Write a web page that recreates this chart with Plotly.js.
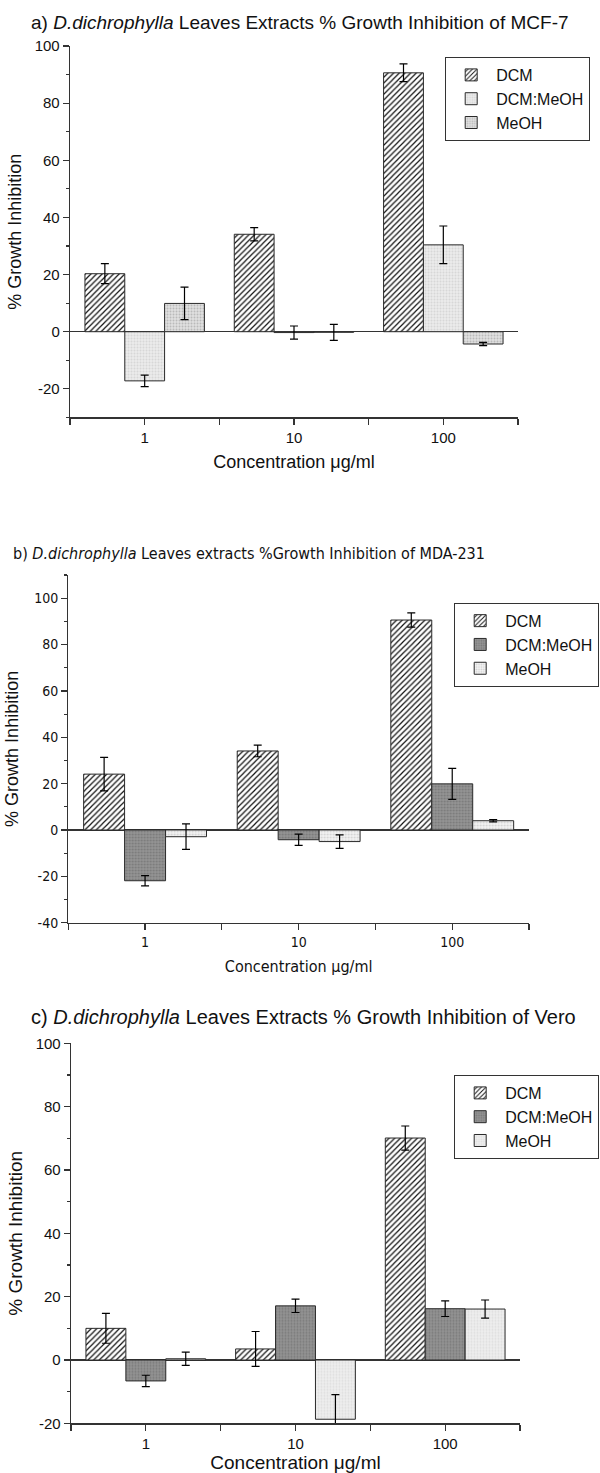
<!DOCTYPE html>
<html>
<head>
<meta charset="utf-8">
<script src="https://cdn.plot.ly/plotly-3.0.1.min.js"></script>
<style>html,body{margin:0;padding:0;background:#fff;} #chart{width:600px;height:1473px;}</style>
</head>
<body>
<div id="chart"></div>
<script>
// ---- data ----
const concentrations = [1, 10, 100];
const concLabels = ['1', '10', '100'];
const seriesNames = ['DCM', 'DCM:MeOH', 'MeOH'];

// a) MCF-7
const mcfDCM = [20.3, 34.1, 90.6];
const mcfDCMerr = [3.5, 2.3, 3.1];
const mcfDCMMeOH = [-17.2, -0.3, 30.4];
const mcfDCMMeOHerr = [2.0, 2.3, 6.6];
const mcfMeOH = [9.9, -0.2, -4.3];
const mcfMeOHerr = [5.7, 2.8, 0.6];

// b) MDA-231
const mdaDCM = [24.1, 34.1, 90.6];
const mdaDCMerr = [7.2, 2.5, 3.1];
const mdaDCMMeOH = [-21.9, -4.2, 19.9];
const mdaDCMMeOHerr = [2.2, 2.4, 6.7];
const mdaMeOH = [-2.9, -5.0, 4.0];
const mdaMeOHerr = [5.5, 2.9, 0.5];

// c) Vero
const veroDCM = [10.0, 3.5, 70.1];
const veroDCMerr = [4.7, 5.5, 3.8];
const veroDCMMeOH = [-6.6, 17.1, 16.2];
const veroDCMMeOHerr = [1.8, 2.1, 2.45];
const veroMeOH = [0.4, -18.7, 16.1];
const veroMeOHerr = [2.1, 7.8, 2.85];

const yTicksA = [-20, 0, 20, 40, 60, 80, 100];
const yTicksB = [-40, -20, 0, 20, 40, 60, 80, 100];
const yTicksC = [-20, 0, 20, 40, 60, 80, 100];

// ---- styling ----
const ARIAL = 'Liberation Sans, Arial, Helvetica, sans-serif';
const NARROW = 'Liberation Sans Narrow, Arial Narrow, DejaVu Sans Condensed, Liberation Sans, sans-serif';
const xPos = concentrations.map(c => Math.log10(c));

const hatch = {shape: '/', fgcolor: '#111', bgcolor: '#fff', size: 4, solidity: 0.3};
const dots = (fg, bg) => ({shape: '.', fgcolor: fg, bgcolor: bg, size: 3, solidity: 0.35});

function bar(name, y, err, pattern, xa, ya, legend) {
  return {
    type: 'bar', name: name, x: xPos, y: y,
    xaxis: xa, yaxis: ya, legend: legend,
    marker: {color: pattern.bgcolor, pattern: pattern, line: {color: '#2a2a2a', width: 1}},
    error_y: {type: 'data', array: err, visible: true, color: '#000', thickness: 1.2, width: 4},
    hoverinfo: 'skip'
  };
}

const data = [
  bar(seriesNames[0], mcfDCM, mcfDCMerr, hatch, 'x', 'y', 'legend'),
  bar(seriesNames[1], mcfDCMMeOH, mcfDCMMeOHerr, dots('#d6d6d6', '#ececec'), 'x', 'y', 'legend'),
  bar(seriesNames[2], mcfMeOH, mcfMeOHerr, dots('#b8b8b8', '#e2e2e2'), 'x', 'y', 'legend'),

  bar(seriesNames[0], mdaDCM, mdaDCMerr, hatch, 'x2', 'y2', 'legend2'),
  bar(seriesNames[1], mdaDCMMeOH, mdaDCMMeOHerr, dots('#777777', '#959595'), 'x2', 'y2', 'legend2'),
  bar(seriesNames[2], mdaMeOH, mdaMeOHerr, dots('#cfcfcf', '#f4f4f4'), 'x2', 'y2', 'legend2'),

  bar(seriesNames[0], veroDCM, veroDCMerr, hatch, 'x3', 'y3', 'legend3'),
  bar(seriesNames[1], veroDCMMeOH, veroDCMMeOHerr, dots('#7a7a7a', '#939393'), 'x3', 'y3', 'legend3'),
  bar(seriesNames[2], veroMeOH, veroMeOHerr, dots('#dedede', '#efefef'), 'x3', 'y3', 'legend3')
];

function xAxis(domain, anchor, font, titleFont, standoff) {
  return {
    domain: domain, anchor: anchor, range: [-0.5, 2.5], fixedrange: true,
    showline: true, linecolor: '#333', linewidth: 1.3, showgrid: false, zeroline: false,
    ticks: 'outside', ticklen: 6, tickwidth: 1.2, tickcolor: '#333',
    tickmode: 'array', tickvals: xPos, ticktext: concLabels,
    minor: {tickvals: [-0.5, 0.5, 1.5, 2.5], ticks: 'outside', ticklen: 6, tickwidth: 1.2, tickcolor: '#333', showgrid: false},
    tickfont: font,
    title: {text: 'Concentration μg/ml', font: titleFont, standoff: standoff},
    automargin: false
  };
}
function yAxis(domain, anchor, range, ticks, font, titleFont, standoff) {
  return {
    domain: domain, anchor: anchor, range: range, fixedrange: true,
    showline: true, linecolor: '#333', linewidth: 1.3, showgrid: false,
    zeroline: true, zerolinecolor: '#333', zerolinewidth: 1.5,
    ticks: 'outside', ticklen: 6, tickwidth: 1.2, tickcolor: '#333',
    tickmode: 'array', tickvals: ticks, ticktext: ticks.map(String),
    minor: {dtick: 10, tick0: 0, ticks: 'outside', ticklen: 3, tickwidth: 1.2, tickcolor: '#333', showgrid: false},
    tickfont: font,
    title: {text: '% Growth Inhibition', font: titleFont, standoff: standoff},
    automargin: false
  };
}

const fA = {family: ARIAL, size: 15, color: '#111'};
const fN = {family: NARROW, size: 14, color: '#111'};
const tA = {family: ARIAL, size: 18, color: '#111'};
const tC = {family: ARIAL, size: 19, color: '#111'};
const tN = {family: NARROW, size: 16, color: '#111'};

function legendBox(x, y) {
  return {x: x, y: y, xanchor: 'left', yanchor: 'top', bgcolor: '#fff', bordercolor: '#333', borderwidth: 1,
          itemwidth: 40,
          font: {family: ARIAL, size: 16, color: '#111'}, tracegroupgap: 0, itemclick: false, itemdoubleclick: false};
}

const layout = {
  width: 600, height: 1473,
  margin: {l: 0, r: 0, t: 0, b: 0, autoexpand: false},
  paper_bgcolor: '#fff', plot_bgcolor: '#fff',
  barmode: 'group', bargap: 0.2, bargroupgap: 0,
  showlegend: true,
  xaxis: xAxis([0.1167, 0.8633], 'y', fA, tA, 10),
  yaxis: yAxis([0.7166, 0.9688], 'x', [-30, 100], yTicksA, fA, tA, 8),
  xaxis2: xAxis([0.1138, 0.8817], 'y2', fN, tN, 12),
  yaxis2: yAxis([0.3736, 0.6096], 'x2', [-40, 110], yTicksB, fN, tA, 10),
  xaxis3: xAxis([0.1183, 0.8667], 'y3', fA, tC, 5),
  yaxis3: yAxis([0.0337, 0.2917], 'x3', [-20, 100], yTicksC, fA, tC, 8),
  legend: legendBox(0.742, 0.9613),
  legend2: legendBox(0.757, 0.5908),
  legend3: legendBox(0.757, 0.2702),
  annotations: [
    {xref: 'paper', yref: 'paper', x: 0.5, y: 1 - 22/1473, xanchor: 'center', yanchor: 'middle', showarrow: false,
     text: 'a) <i>D.dichrophylla</i> Leaves Extracts % Growth Inhibition of MCF-7', font: {family: ARIAL, size: 19, color: '#111'}},
    {xref: 'paper', yref: 'paper', x: 11/600, y: 1 - 553/1473, xanchor: 'left', yanchor: 'middle', showarrow: false,
     text: 'b) <i>D.dichrophylla</i> Leaves extracts %Growth Inhibition of MDA-231', font: {family: NARROW, size: 16, color: '#111'}},
    {xref: 'paper', yref: 'paper', x: 0.505, y: 1 - 1017/1473, xanchor: 'center', yanchor: 'middle', showarrow: false,
     text: 'c) <i>D.dichrophylla</i> Leaves Extracts % Growth Inhibition of Vero', font: {family: ARIAL, size: 20, color: '#111'}}
  ]
};

Plotly.newPlot('chart', data, layout, {staticPlot: true, displayModeBar: false});
</script>
</body>
</html>
